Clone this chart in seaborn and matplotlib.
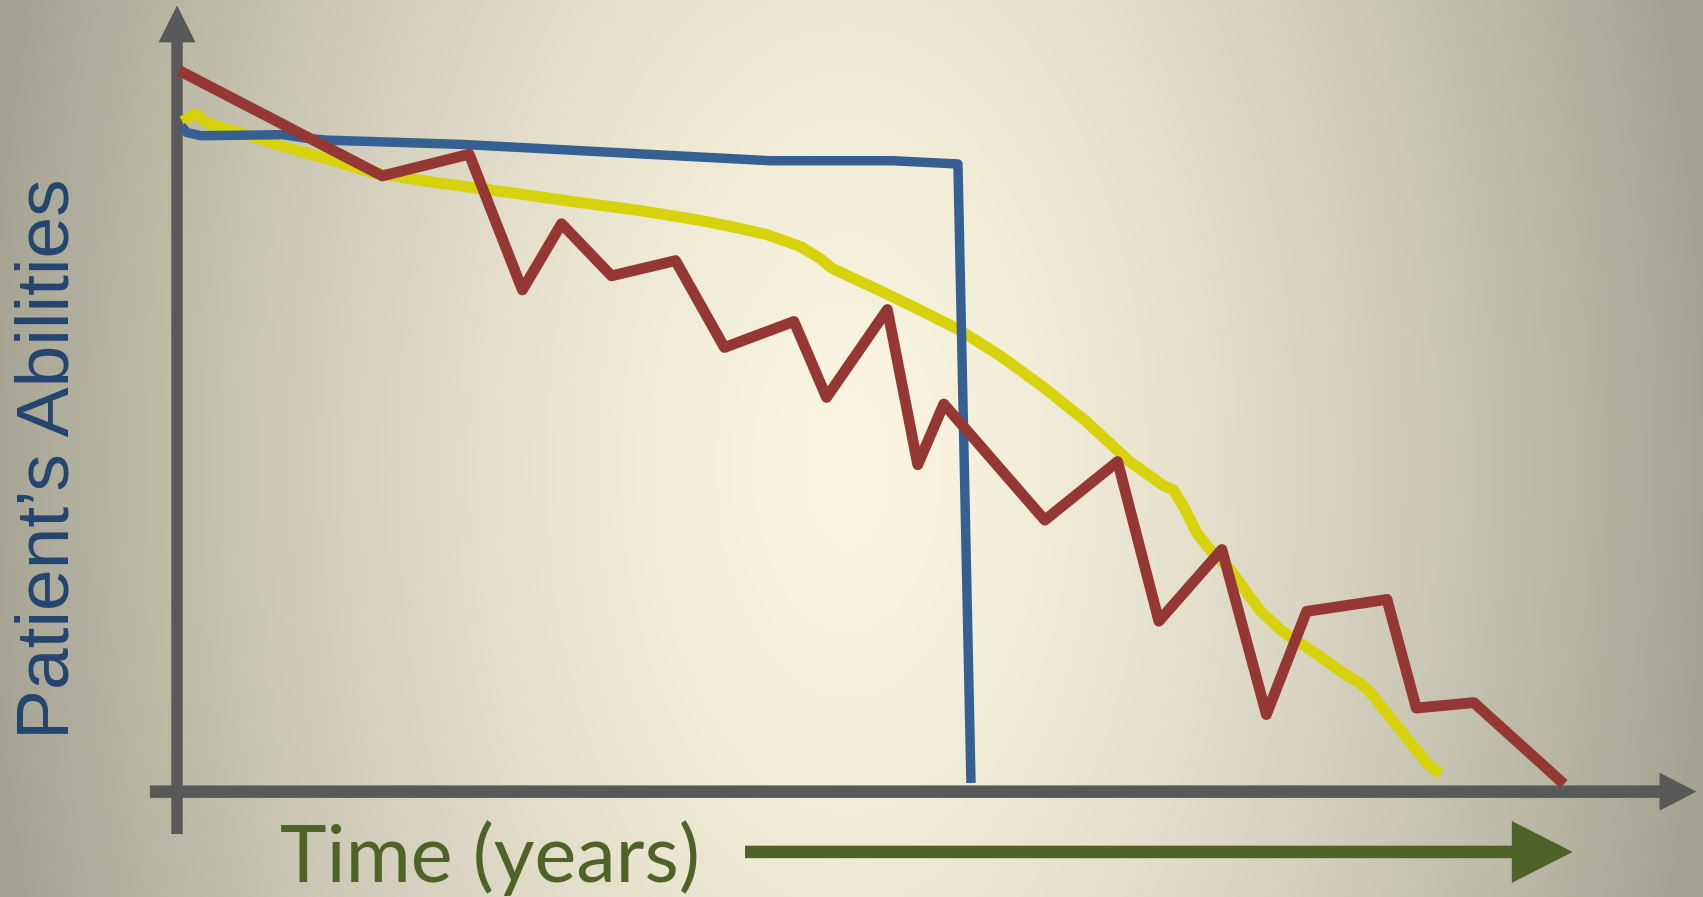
import matplotlib
matplotlib.use("Agg")
import matplotlib.pyplot as plt
from matplotlib.patches import FancyArrow
import seaborn as sns
import pandas as pd
import numpy as np

# time (years) and patient's abilities
red_time = [0.02, 1.89, 2.69, 3.18, 3.54, 4.00, 4.59, 5.04, 5.68, 5.98, 6.54, 6.82,
            7.06, 7.99, 8.66, 9.04, 9.62, 10.03, 10.40, 11.14, 11.41, 11.94, 12.77]
red_ability = [6.64, 5.67, 5.87, 4.62, 5.23, 4.75, 4.89, 4.09, 4.33, 3.63, 4.44, 3.01,
               3.57, 2.50, 3.04, 1.57, 2.23, 0.71, 1.66, 1.77, 0.77, 0.82, 0.07]

blue_time = [0.04, 0.09, 0.22, 0.97, 1.17, 1.37, 2.63, 5.46, 6.59, 7.19, 7.31]
blue_ability = [6.13, 6.07, 6.04, 6.05, 6.02, 6.00, 5.96, 5.81, 5.81, 5.78, 0.08]

yellow_time = [0.05, 0.17, 0.29, 0.57, 0.98, 1.37, 1.80, 2.37, 3.04, 3.67, 4.27, 4.82,
               5.12, 5.43, 5.74, 5.92, 6.03, 6.20, 6.50, 6.85, 7.17, 7.57, 7.97, 8.37,
               8.77, 9.08, 9.17, 9.27, 9.39, 9.51, 9.70, 9.97, 10.16, 10.43, 10.74,
               10.89, 10.98, 11.26, 11.51, 11.63]
yellow_ability = [6.17, 6.24, 6.15, 6.07, 5.94, 5.83, 5.70, 5.61, 5.52, 5.43, 5.35, 5.26,
                  5.20, 5.13, 5.02, 4.91, 4.82, 4.74, 4.60, 4.43, 4.27, 4.02, 3.73, 3.41,
                  3.04, 2.82, 2.78, 2.62, 2.38, 2.23, 2.04, 1.67, 1.49, 1.31, 1.09,
                  1.00, 0.92, 0.57, 0.26, 0.16]

x_label = "Time (years)"
y_label = "Patient\u2019s Abilities"

frames = []
for name, t, a in [("yellow", yellow_time, yellow_ability),
                   ("blue", blue_time, blue_ability),
                   ("red", red_time, red_ability)]:
    frames.append(pd.DataFrame({"time": t, "ability": a, "series": name}))
df = pd.concat(frames, ignore_index=True)

sns.set_theme(style="white")
plt.rcParams["font.family"] = ["Liberation Sans", "DejaVu Sans"]

fig = plt.figure(figsize=(17.03, 8.97), dpi=100)
ax = fig.add_axes([0, 0, 1, 1])
xlim = (-1.63, 14.05)
ylim = (-0.97, 7.29)

# radial background, wider than tall
W, H = 780, 410
px = np.linspace(0, 1568, W)
py = np.linspace(0, 826, H)
gx, gy = np.meshgrid(px, py)
d = np.sqrt(((gx - 780) / 800.0) ** 2 + ((gy - 430) / 1400.0) ** 2)
t = np.clip(d, 0, 1) ** 1.5
c0 = np.array([250, 245, 224]) / 255.0
c1 = np.array([164, 162, 145]) / 255.0
img = c0[None, None, :] * (1 - t[..., None]) + c1[None, None, :] * t[..., None]
ax.imshow(img, extent=(xlim[0], xlim[1], ylim[0], ylim[1]), aspect="auto",
          zorder=0, interpolation="bilinear")

axis_grey = "#595959"
ax.add_patch(FancyArrow(0, -0.39, 0, 7.63, width=0.105, head_width=0.34,
                        head_length=0.34, length_includes_head=True,
                        color=axis_grey, lw=0, zorder=2))
ax.add_patch(FancyArrow(-0.25, 0, 14.24, 0, width=0.115, head_width=0.35,
                        head_length=0.34, length_includes_head=True,
                        color=axis_grey, lw=0, zorder=2))
ax.add_patch(FancyArrow(5.23, -0.555, 7.62, 0, width=0.115, head_width=0.57,
                        head_length=0.56, length_includes_head=True,
                        color="#4f6228", lw=0, zorder=2))

styles = {"yellow": ("#d6d20b", 8.0), "blue": ("#366092", 6.8), "red": ("#953735", 7.8)}
for name in ["yellow", "blue", "red"]:
    col, lw = styles[name]
    sns.lineplot(data=df[df["series"] == name], x="time", y="ability", ax=ax,
                 sort=False, estimator=None, color=col, linewidth=lw,
                 solid_joinstyle="round", solid_capstyle="butt", zorder=3)

ax.text(0.95, -0.83, x_label, ha="left", va="baseline", fontsize=57,
        color="#4f6228", family=["Lato", "DejaVu Sans"])
ax.text(-1.18, 3.07, y_label, ha="center", va="center", rotation=90,
        fontsize=54, color="#24456f", family=["Liberation Sans", "DejaVu Sans"])

ax.set_xlim(*xlim)
ax.set_ylim(*ylim)
ax.set_axis_off()
fig.savefig("out.png", dpi=100)
